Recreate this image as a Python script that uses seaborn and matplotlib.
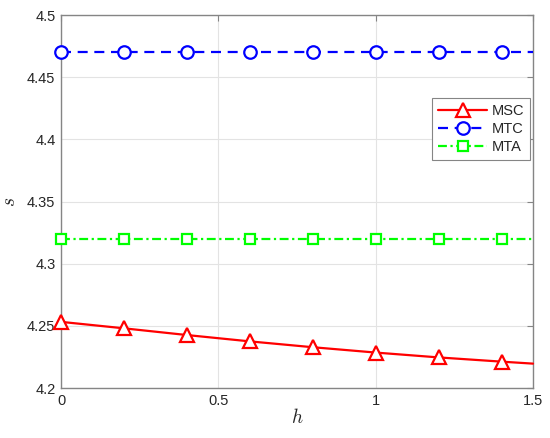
import matplotlib
matplotlib.use("Agg")
import matplotlib.pyplot as plt
import seaborn as sns
import pandas as pd
from matplotlib.ticker import FuncFormatter

# data
h = [0, 0.2, 0.4, 0.6, 0.8, 1.0, 1.2, 1.4, 1.5]
msc = [4.2532, 4.2480, 4.2426, 4.2375, 4.2328, 4.2285, 4.2246, 4.2212, 4.2196]
mtc = [4.47, 4.47, 4.47, 4.47, 4.47, 4.47, 4.47, 4.47, 4.47]
mta = [4.32, 4.32, 4.32, 4.32, 4.32, 4.32, 4.32, 4.32, 4.32]
labels = ["MSC", "MTC", "MTA"]
xticks = [0, 0.5, 1, 1.5]
yticks = [4.2, 4.25, 4.3, 4.35, 4.4, 4.45, 4.5]

sns.set_theme(style="white")
plt.rcParams["font.family"] = ["Liberation Sans", "DejaVu Sans"]
plt.rcParams["mathtext.fontset"] = "cm"

fig = plt.figure(figsize=(5.5, 4.38), dpi=100)
ax = fig.add_axes([61/550, 1-388/438, (533-61)/550, (388-15)/438])

df = pd.DataFrame({"h": h, "MSC": msc, "MTC": mtc, "MTA": mta})
marks = list(range(8))

sns.lineplot(data=df, x="h", y="MSC", ax=ax, color=(1, 0, 0), lw=1.6,
             marker="^", markersize=10, markerfacecolor="white",
             markeredgecolor=(1, 0, 0), markeredgewidth=1.6,
             markevery=marks, label=labels[0], clip_on=False, zorder=3)
sns.lineplot(data=df, x="h", y="MTC", ax=ax, color=(0, 0, 1), lw=1.6,
             marker="o", markersize=9, markerfacecolor="white",
             markeredgecolor=(0, 0, 1), markeredgewidth=1.6,
             markevery=marks, dashes=(4.5, 3), label=labels[1],
             clip_on=False, zorder=3)
sns.lineplot(data=df, x="h", y="MTA", ax=ax, color=(0, 1, 0), lw=1.6,
             marker="s", markersize=7, markerfacecolor="white",
             markeredgecolor=(0, 1, 0), markeredgewidth=1.6,
             markevery=marks, dashes=(4, 1.6, 1, 1.6), label=labels[2],
             clip_on=False, zorder=3)

ax.set_xlim(0, 1.5)
ax.set_ylim(4.2, 4.5)
ax.set_xticks(xticks)
ax.set_yticks(yticks)
fmt = FuncFormatter(lambda v, p: f"{v:g}")
ax.xaxis.set_major_formatter(fmt)
ax.yaxis.set_major_formatter(fmt)

ax.grid(True, color="#e3e3e3", lw=0.8)
ax.set_axisbelow(True)
for s in ax.spines.values():
    s.set_visible(True)
    s.set_color("#858585")
    s.set_linewidth(1.0)
ax.tick_params(direction="in", length=4, width=0.8, color="#858585",
               top=True, right=True, labelsize=10.5, labelcolor="#262626", pad=4)

ax.set_xlabel("$h$", fontsize=14, color="#262626", labelpad=0)
ax.set_ylabel("$s$", fontsize=14, color="#262626", labelpad=6)

leg = ax.legend(loc="upper right", bbox_to_anchor=(530/550, 1-98/438),
                bbox_transform=fig.transFigure, borderaxespad=0,
                fancybox=False, framealpha=1, edgecolor="#858585",
                fontsize=10.5, handlelength=3.4, numpoints=1,
                labelspacing=0.28, handletextpad=0.3, borderpad=0.4)
leg.get_frame().set_linewidth(0.8)
leg.set_zorder(5)

fig.savefig("out.png", dpi=100)
